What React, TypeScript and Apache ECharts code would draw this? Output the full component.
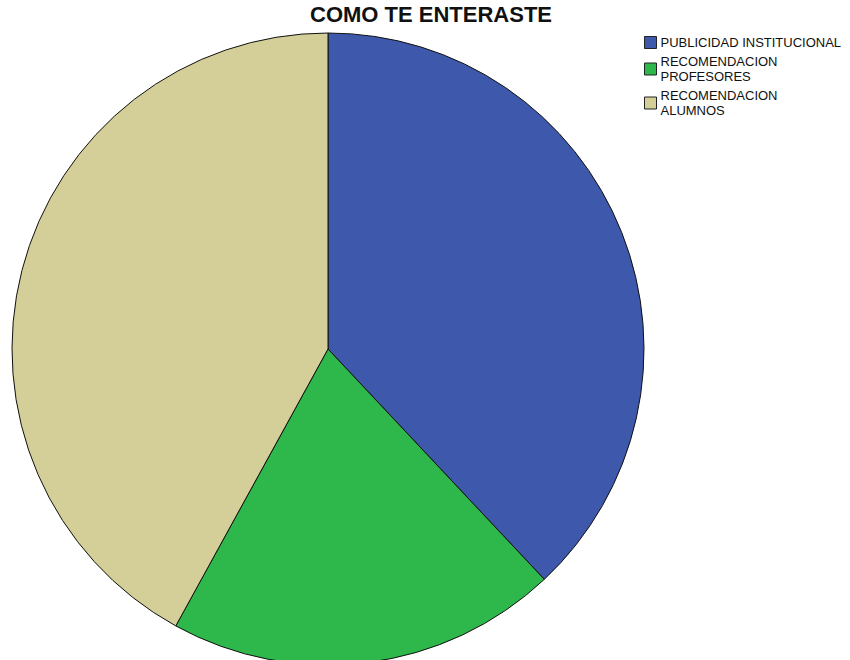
import React, { useEffect, useRef } from "react";
import * as echarts from "echarts";

const title = "COMO TE ENTERASTE";
const categories = ["PUBLICIDAD INSTITUCIONAL", "RECOMENDACION\nPROFESORES", "RECOMENDACION\nALUMNOS"];
const values = [38, 20, 42];
const colors = ["#3e58ab", "#2eb84b", "#d4cf98"];

export default function App() {
  const ref = useRef<HTMLDivElement>(null);
  useEffect(() => {
    if (!ref.current) return;
    const chart = echarts.init(ref.current, null, { renderer: "svg" });
    chart.setOption({
      animation: false,
      title: {
        text: title,
        left: 431,
        top: 3,
        padding: 0,
        textAlign: "center",
        textStyle: { fontFamily: "Liberation Sans", fontSize: 22, fontWeight: "bold", color: "#111" },
      },
      legend: {
        orient: "vertical",
        left: 644,
        top: 35,
        padding: 0,
        itemWidth: 12,
        itemHeight: 12,
        itemGap: 4,
        icon: "rect",
        selectedMode: false,
        textStyle: { fontFamily: "Liberation Sans", fontSize: 13, lineHeight: 15, color: "#111", padding: [0, 0, 0, -1] },
        itemStyle: { borderColor: "#222", borderWidth: 1 },
        data: categories,
      },
      series: [
        {
          type: "pie",
          center: [328, 349],
          radius: 316,
          startAngle: 90,
          clockwise: true,
          label: { show: false },
          labelLine: { show: false },
          emphasis: { disabled: true },
          itemStyle: { borderColor: "#111", borderWidth: 1 },
          data: categories.map((name, i) => ({ name, value: values[i], itemStyle: { color: colors[i] } })),
        },
      ],
    });
    return () => chart.dispose();
  }, []);
  return <div ref={ref} style={{ position: "fixed", left: 0, top: 0, width: 850, height: 660, background: "#fff" }} />;
}
